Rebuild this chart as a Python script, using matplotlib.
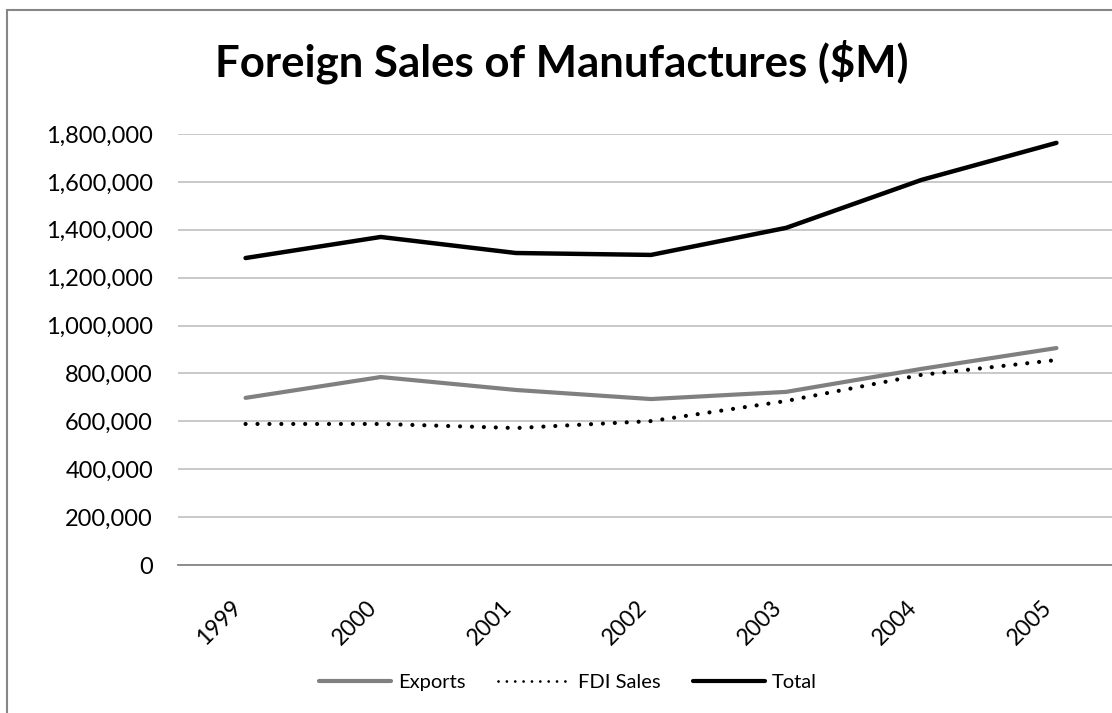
import matplotlib
matplotlib.use("Agg")
import matplotlib.pyplot as plt
from matplotlib.lines import Line2D
from matplotlib.patches import Rectangle
from matplotlib.ticker import FuncFormatter

years = ["1999", "2000", "2001", "2002", "2003", "2004", "2005"]
exports = [698000, 785000, 731000, 693000, 723000, 819000, 906000]
fdi_sales = [589000, 589000, 572000, 601000, 685000, 794000, 856000]
total = [1282000, 1370000, 1303000, 1295000, 1408000, 1608000, 1763000]

plt.rcParams['font.family'] = ['Lato', 'DejaVu Sans']

W, H = 1112, 713
fig = plt.figure(figsize=(W / 100, H / 100), dpi=100)

# plot area in pixels (chart is cropped on the right)
left, right, top, bottom = 178, 1124, 134, 565
ax = fig.add_axes([left / W, (H - bottom) / H, (right - left) / W, (bottom - top) / H])

x = range(len(years))
ax.plot(x, exports, color='#808080', lw=3.0, solid_capstyle='round', zorder=3)
ax.plot(x, fdi_sales, color='black', lw=3.0, linestyle=(0, (0.01, 2.85)),
        dash_capstyle='round', zorder=3)
ax.plot(x, total, color='black', lw=3.2, solid_capstyle='round', zorder=3)

ax.set_xlim(-0.5, len(years) - 0.5)
ax.set_ylim(0, 1800000)
ax.set_yticks(range(0, 1800001, 200000))
ax.yaxis.set_major_formatter(FuncFormatter(lambda v, p: f"{int(v):,}"))
ax.grid(axis='y', color='#c0c0c0', lw=1.2, zorder=0)
ax.set_axisbelow(True)

for s in ['top', 'right', 'left']:
    ax.spines[s].set_visible(False)
ax.spines['bottom'].set_color('#868686')
ax.spines['bottom'].set_linewidth(1.3)

ax.set_xticks(list(x))
ax.set_xticklabels(years, rotation=45, ha='right', va='top')
ax.tick_params(axis='x', length=0, pad=23, labelsize=16.5)
ax.tick_params(axis='y', length=0, pad=18, labelsize=17)

fig.text(562 / W, (H - 76) / H, "Foreign Sales of Manufactures ($M)",
         ha='center', va='baseline', fontsize=31.5, fontweight='bold')

handles = [
    Line2D([], [], color='#808080', lw=3.0, solid_capstyle='round'),
    Line2D([], [], color='black', lw=2.0, linestyle=(0, (0.01, 3.0)), dash_capstyle='round'),
    Line2D([], [], color='black', lw=3.0, solid_capstyle='round'),
]
fig.legend(handles, ["Exports", "FDI Sales", "Total"], loc='center',
           bbox_to_anchor=(568 / W, (H - 682) / H), ncol=3, frameon=False,
           fontsize=14.5, handlelength=3.6, handletextpad=0.35, columnspacing=1.6)

# chart border (cropped at right and bottom)
fig.add_artist(Rectangle((7 / W, -0.1), 1.2, (H - 10) / H + 0.1, transform=fig.transFigure,
                         fill=False, edgecolor='#878787', lw=1.5))

fig.savefig("out.png", dpi=100)
